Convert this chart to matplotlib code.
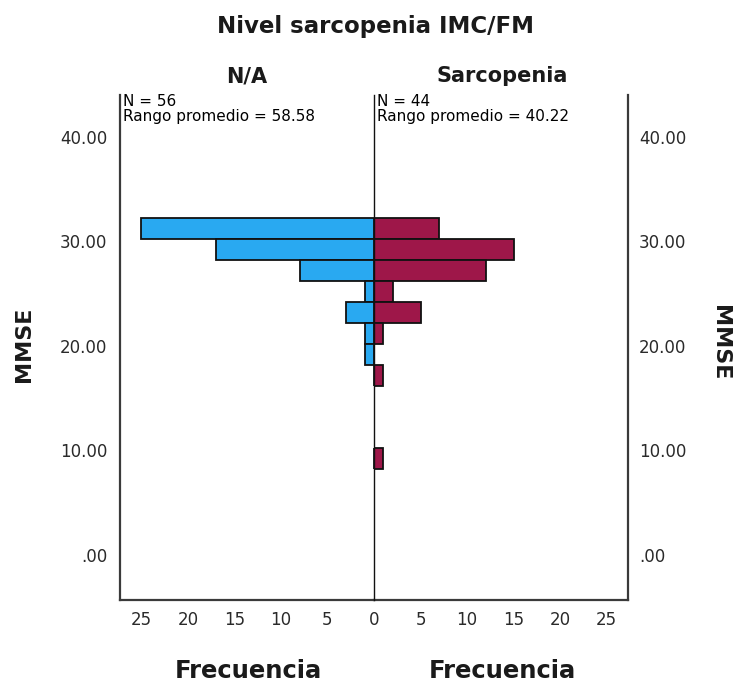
import matplotlib
matplotlib.use('Agg')
import matplotlib.pyplot as plt
from matplotlib import font_manager

# --- datos (histograma MMSE por grupo) ---
bin_low = [30.2, 28.2, 26.2, 24.2, 22.2, 20.2, 18.2, 16.2, 8.2]
bin_width = 2.0
na_counts = [25, 17, 8, 1, 3, 1, 1, 0, 0]
sarc_counts = [7, 15, 12, 2, 5, 1, 0, 1, 1]
groups = ['N/A', 'Sarcopenia']
n_vals = [56, 44]
rangos = ['58.58', '40.22']
y_ticks = [0, 10, 20, 30, 40]
y_ticklabels = ['.00', '10.00', '20.00', '30.00', '40.00']
x_ticks = [0, 5, 10, 15, 20, 25]

W, H = 740, 686
fig = plt.figure(figsize=(W / 100, H / 100), dpi=100)

def px(x, y):
    return x / W, 1 - y / H

# fuente estrecha para "MMSE" si existe
names = {f.name for f in font_manager.fontManager.ttflist}
narrow = 'Liberation Sans Narrow' if 'Liberation Sans Narrow' in names else 'DejaVu Sans'
mmse_size = 21 if narrow != 'DejaVu Sans' else 16

left, bottom = 120 / W, 1 - 600 / H
aw, ah = 254 / W, 505 / H
axL = fig.add_axes([left, bottom, aw, ah])
axR = fig.add_axes([374 / W, bottom, aw, ah])

blue = '#29a9f1'
red = '#9e1749'
frame = '#3a3a3a'

axL.barh(bin_low, na_counts, height=bin_width, align='edge',
         color=blue, edgecolor='#111111', linewidth=1.3)
axR.barh(bin_low, sarc_counts, height=bin_width, align='edge',
         color=red, edgecolor='#111111', linewidth=1.3)

ylo, yhi = -4.3, 44.0
xmax = 27.3
axL.set_xlim(xmax, 0)
axR.set_xlim(0, xmax)
for ax in (axL, axR):
    ax.set_facecolor('none')
    ax.set_ylim(ylo, yhi)
    ax.spines['top'].set_visible(False)
    ax.spines['bottom'].set_color(frame)
    ax.spines['bottom'].set_linewidth(1.6)
    ax.set_xticks(x_ticks)
    ax.tick_params(axis='both', length=0, labelsize=12, labelcolor='#2a2a2a')
    ax.tick_params(axis='x', pad=8)
    ax.set_yticks(y_ticks)

axL.spines['left'].set_color(frame)
axL.spines['left'].set_linewidth(1.6)
axL.spines['right'].set_visible(False)
axL.set_yticklabels(y_ticklabels)
axL.tick_params(axis='y', pad=9)

# linea central
axR.spines['left'].set_color('#111111')
axR.spines['left'].set_linewidth(1.0)
axR.spines['left'].set_zorder(5)
axR.spines['right'].set_color(frame)
axR.spines['right'].set_linewidth(1.6)
axR.yaxis.tick_right()
axR.set_yticklabels(y_ticklabels)
axR.tick_params(axis='y', pad=8, length=0)
axR.set_xticklabels(['', '5', '10', '15', '20', '25'])

# titulos
fig.text(*px(375, 27), 'Nivel sarcopenia IMC/FM', fontsize=16.5,
         fontweight='bold', ha='center', va='center', color='#1a1a1a')
for cx, g in zip([247, 502], groups):
    fig.text(*px(cx, 76), g, fontsize=15, fontweight='bold',
             ha='center', va='center', color='#1a1a1a')

# N y rango promedio
for x0, n, r in zip([123, 377], n_vals, rangos):
    fig.text(*px(x0, 102), f'N = {n}', fontsize=11, ha='left', va='center')
    fig.text(*px(x0, 116), f'Rango promedio = {r}', fontsize=11,
             ha='left', va='center')

# etiquetas de ejes
for cx in (248, 502):
    fig.text(*px(cx, 678), 'Frecuencia', fontsize=17.5, fontweight='bold',
             ha='center', va='baseline', color='#1a1a1a')
fig.text(*px(24, 344), 'MMSE', fontsize=mmse_size, fontweight='bold',
         family=narrow, rotation=90, ha='center', va='center', color='#1a1a1a')
fig.text(*px(720, 343), 'MMSE', fontsize=mmse_size, fontweight='bold',
         family=narrow, rotation=-90, ha='center', va='center', color='#1a1a1a')

fig.savefig('out.png', dpi=100, facecolor='white')
